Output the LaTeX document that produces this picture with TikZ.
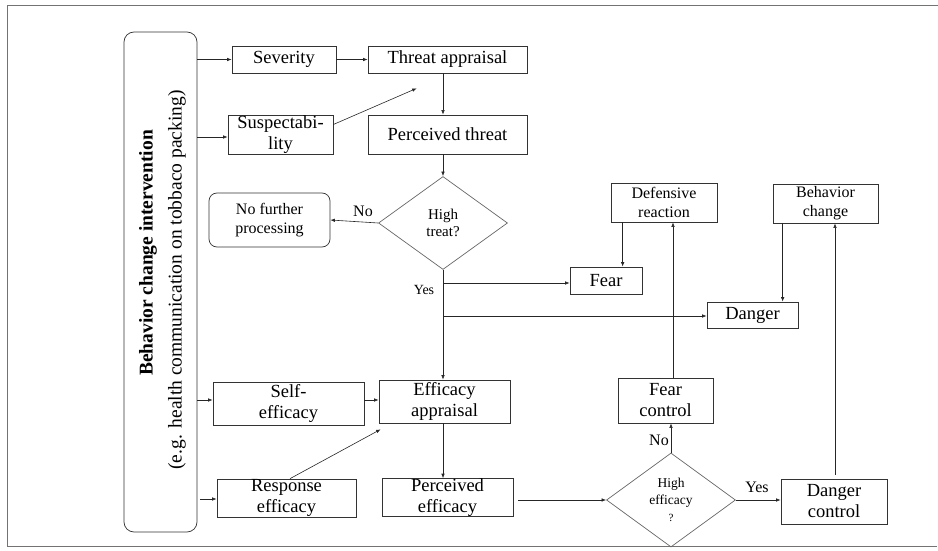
\documentclass[tikz,border=0pt]{standalone}
\usepackage{fontspec}
\setmainfont{Liberation Serif}
\usetikzlibrary{shapes.geometric,arrows.meta,calc}
\begin{document}
\begin{tikzpicture}[x=1pt,y=-1pt,
  box/.style={draw=black!80,line width=0.7pt,rectangle,inner sep=0pt,align=center,
     font=\fontsize{18.5}{21}\selectfont},
  sbox/.style={box,font=\fontsize{16}{19}\selectfont},
  dia/.style={draw=black!60,line width=0.7pt,diamond,inner sep=0pt,align=center},
  arr/.style={draw=black!85,line width=0.6pt,-{Latex[length=4.5pt,width=3.5pt]}},
  lab/.style={font=\fontsize{16}{19}\selectfont,inner sep=0pt},
  frame/.style={draw=black!55,line width=1pt}]
\useasboundingbox (0,0) rectangle (938,551);
\draw[frame] (938,6) -- (7,6) -- (7,546) -- (937,546);

% left rounded box
\node[draw=black!80,line width=0.7pt,rounded corners=10pt,minimum width=73pt,minimum height=500pt,inner sep=0pt] (big) at (160.5,282) {};
\node[rotate=90,font=\fontsize{19.5}{22}\selectfont\bfseries,inner sep=0pt] (bigt1) at (148,253) {Behavior change intervention};
\node[rotate=90,font=\fontsize{19.5}{22}\selectfont,inner sep=0pt] (bigt2) at (177,280) {(e.g. health communication on tobbaco packing)};

% boxes
\node[box,minimum width=104pt,minimum height=27pt] (sev) at (284,59.5) {Severity};
\node[box,minimum width=159pt,minimum height=27pt] (ta) at (447.5,59.5) {Threat appraisal};
\node[box,minimum width=105pt,minimum height=39pt] (sus) at (280.5,134.5) {Suspectabi-\\lity};
\node[box,minimum width=159pt,minimum height=39pt] (pt) at (447.5,134.5) {Perceived threat};
\node[sbox,rounded corners=8pt,minimum width=121pt,minimum height=54pt] (nfp) at (269.5,220) {No further\\processing};
\node[sbox,minimum width=106pt,minimum height=39pt] (dr) at (664,202.5) {Defensive\\reaction};
\node[sbox,minimum width=105pt,minimum height=39pt] (bc) at (825.5,203.5) {Behavior\\change};
\node[box,minimum width=72pt,minimum height=27pt] (fear) at (606,280.5) {Fear};
\node[box,minimum width=91pt,minimum height=26pt] (danger) at (752.5,315) {Danger};
\node[box,minimum width=151pt,minimum height=43pt] (se) at (288.5,403.5) {Self-\\efficacy};
\node[box,minimum width=131pt,minimum height=43pt] (ea) at (444.5,401.5) {Efficacy\\appraisal};
\node[box,minimum width=139pt,minimum height=38pt] (re) at (286.5,498) {Response\\efficacy};
\node[box,minimum width=131pt,minimum height=37pt] (pe) at (447.5,497.5) {Perceived\\efficacy};
\node[box,minimum width=95pt,minimum height=45pt] (fc) at (665.5,400.5) {Fear\\control};
\node[box,minimum width=106pt,minimum height=45pt] (dc) at (834,501.5) {Danger\\control};

% diamonds
\node[dia,minimum width=129pt,minimum height=93pt,font=\fontsize{15}{17}\selectfont] (d1) at (443,223) {High\\treat?};
\node[dia,minimum width=129pt,minimum height=94pt,font=\fontsize{13.5}{17}\selectfont] (d2) at (671,500) {High\\efficacy\\{\fontsize{11}{17}\selectfont ?}};

% helper coordinates
\coordinate (susA) at ($(sus.east)+(0,-10)$);
\coordinate (taB) at ($(ta.south west)+(49,15)$);
\coordinate (drA) at ($(dr.south west)+(12,0)$);
\coordinate (fcA) at ($(fc.north)+(7.5,0)$);
\coordinate (bcA) at ($(bc.south west)+(10,0)$);
\coordinate (dcA) at ($(dc.north)+(1,-4)$);
\coordinate (reA) at ($(re.north)+(3.5,0)$);
\coordinate (eaB) at ($(ea.south west)+(2,6)$);
\coordinate (peA) at ($(pe.east)+(5,2.5)$);
\coordinate (br1) at ($(d1.south |- fear.west)+(0,2.5)$);
\coordinate (br2) at ($(d1.south |- danger.west)+(0,1)$);

% connectors from the left box
\draw[arr] (sev.west -| big.east) -- (sev.west);
\draw[arr] ($(sus.west -| big.east)+(0,2.5)$) -- ($(sus.west)+(0,2.5)$);
\draw[arr] ($(se.west -| big.east)+(0,-3.5)$) -- ($(se.west)+(0,-3.5)$);
\draw[arr] ($(re.west -| big.east)+(3,1)$) -- ($(re.west)+(0,1)$);

% threat path
\draw[arr] (sev.east) -- (ta.west);
\draw[arr] (susA) -- (taB);
\draw[arr] (ta.south -| d1.north) -- (pt.north -| d1.north);
\draw[arr] (pt.south -| d1.north) -- (d1.north);
\draw[arr] (d1.west) -- (nfp.east);
\node[lab] (no1) at (363,211) {No};

% yes branch
\draw[arr] (d1.south) -- (ea.north -| d1.south);
\draw[arr] (br1) -- (br1 -| fear.west);
\draw[arr] (br2) -- (br2 -| danger.west);
\node[lab,font=\fontsize{14}{17}\selectfont] (yes1) at (424,290) {Yes};

% right side
\draw[arr] (drA) -- (drA |- fear.north);
\draw[arr] (fcA) -- (fcA |- dr.south);
\draw[arr] (bcA) -- (bcA |- danger.north);
\draw[arr] (dcA) -- (dcA |- bc.south);

% efficacy path
\draw[arr] ($(se.east)+(0,-3.5)$) -- ($(ea.west)+(0,-1.5)$);
\draw[arr] (reA) -- (eaB);
\draw[arr] (ea.south -| d1.south) -- (pe.north -| d1.south);
\draw[arr] (peA) -- (peA -| d2.west);
\draw[arr] (d2.east) -- (dc.west |- d2.east);
\node[lab] (yes2) at (757,487) {Yes};
\draw[arr] (d2.north) -- (d2.north |- fc.south);
\node[lab] (no2) at (659,440) {No};
\end{tikzpicture}
\end{document}
